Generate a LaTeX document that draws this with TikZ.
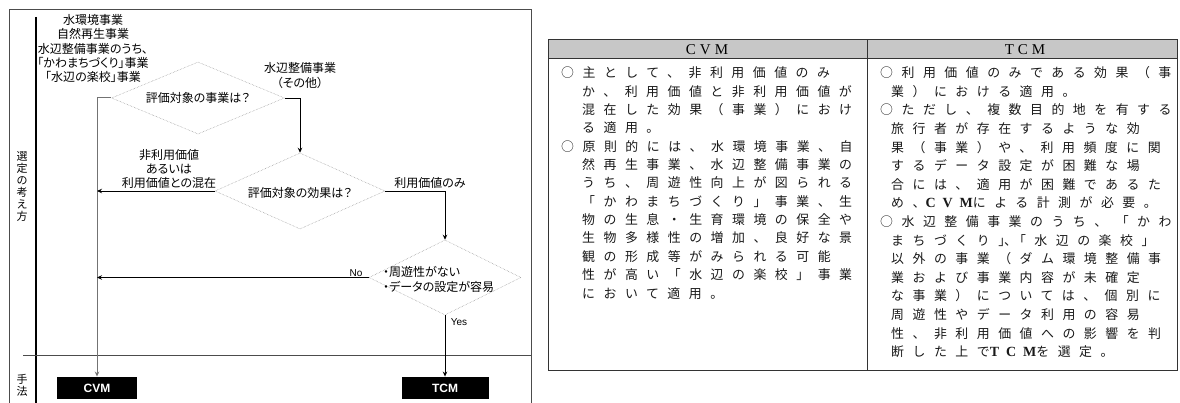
\documentclass[tikz,border=0pt]{standalone}
\usepackage{fontspec}
\setmainfont{Noto Sans CJK JP}
\newfontfamily\jp[RawFeature=+palt]{Noto Sans CJK JP}
\newfontfamily\jpsp[LetterSpace=66]{Noto Sans CJK JP}
\newfontfamily\lsans{Liberation Sans}
\newfontfamily\lserif{Liberation Serif}
\newfontfamily\lserifsp[LetterSpace=50]{Liberation Serif}
\usetikzlibrary{arrows.meta,shapes.geometric}
\newcommand\lat[1]{{\lserifsp\bfseries\fontsize{14}{14}\selectfont #1}}
\tikzset{
 ft/.style={font=\jp\fontsize{12}{14.25}\selectfont, inner sep=0, align=center},
 dia/.style={diamond, draw=black!45, line width=0.5pt, densely dotted, inner sep=0},
 conn/.style={draw=black, line width=0.9pt, -{Stealth[length=5pt,width=4.5pt]}},
 gconn/.style={draw=black!55, line width=1pt, -{Stealth[length=5pt,width=4.5pt]}},
 mbox/.style={fill=black, text=white, font=\lsans\bfseries\fontsize{12}{12}\selectfont, minimum height=22.5pt, inner sep=0},
 tb/.style={font=\jpsp\fontsize{12.9}{14}\selectfont, text=black!90, inner sep=0, anchor=base west},
 lab/.style={font=\lsans\fontsize{10}{10}\selectfont, inner sep=0},
}
\begin{document}
\begin{tikzpicture}[x=1pt,y=-1pt]
\useasboundingbox (0,0) rectangle (1180,403);
% frame
\draw[black!70, line width=1pt] (9,403) -- (9,10) -- (531,10) -- (531,403);
\draw[black, line width=1.3pt] (36,17) -- (36,403);
\draw[black!70, line width=0.9pt] (23,355.7) -- (531,355.7);
\node[ft, font=\jp\fontsize{11}{12}\selectfont] (v1) at (22,186) {選\\定\\の\\考\\え\\方};
\node[ft, font=\jp\fontsize{11}{12}\selectfont] (v2) at (22,385) {手\\法};
% texts
\node[ft] (t1) at (93,48.5) {水環境事業\\自然再生事業\\水辺整備事業のうち、\\「かわまちづくり」事業\\「水辺の楽校」事業};
\node[ft] (t2) at (300,75.5) {水辺整備事業\\（その他）};
% diamonds
\node[dia, minimum width=173pt, minimum height=72pt] (d1) at (198,98) {};
\node[ft] (d1t) at (198,97.5) {評価対象の事業は？};
\node[dia, minimum width=170pt, minimum height=76pt] (d2) at (300,191) {};
\node[ft] (d2t) at (300,192.5) {評価対象の効果は？};
\node[dia, minimum width=152pt, minimum height=75pt] (d3) at (445,277.5) {};
\node[ft, align=left, anchor=west] (d3t) at (383,279.5) {・周遊性がない\\・データの設定が容易};
% method boxes
\node[mbox, minimum width=80.5pt] (cvm) at (97,388) {CVM};
\node[mbox, minimum width=87pt] (tcm) at (445,388) {TCM};
% connectors
\draw[gconn] (d1.west) -| (cvm.north);
\draw[conn] (d1.east) -| (d2.north);
\draw[conn] (d2.west) -- (d2.west -| cvm.north);
\draw[conn] (d2.east) -| (d3.north);
\draw[conn] (d3.west) -- (d3.west -| cvm.north);
\draw[conn, line width=0.7pt] (d3.south) -- (tcm.north);
\node[ft] (l1) at (169,169) {非利用価値\\あるいは\\利用価値との混在};
\node[ft] (l2) at (430,183) {利用価値のみ};
\node[lab] (l3) at (356,273) {No};
\node[lab] (l4) at (459,322) {Yes};
% table
\fill[black!22] (548,40) rectangle (1177,59);
\draw[black!80, line width=1pt] (548,40) rectangle (1177,370);
\draw[black!80, line width=1pt] (548,59) -- (1177,59);
\draw[black!80, line width=1pt] (867,40) -- (867,370);
\node[font=\lserif\fontsize{15}{15}\selectfont, inner sep=0] (h1) at (707,49.5) {C\hspace{4pt}V\hspace{4pt}M};
\node[font=\lserif\fontsize{15}{15}\selectfont, inner sep=0] (h2) at (1025,49.5) {T\hspace{4pt}C\hspace{4pt}M};
\foreach \xx/\t [count=\i] in {
 561/{○主として、非利用価値のみ},
 582/{か、利用価値と非利用価値が},
 582/{混在した効果（事業）におけ},
 582/{る適用。},
 561/{○原則的には、水環境事業、自},
 582/{然再生事業、水辺整備事業の},
 582/{うち、周遊性向上が図られる},
 582/{「かわまちづくり」事業、生},
 582/{物の生息・生育環境の保全や},
 582/{生物多様性の増加、良好な景},
 582/{観の形成等がみられる可能},
 582/{性が高い「水辺の楽校」事業},
 582/{において適用。}}
 \node[tb] (cl\i) at (\xx,77.8+18.35*\i-18.35) {\t};
\foreach \xx/\t [count=\i] in {
 880/{○利用価値のみである効果（事},
 891/{業）における適用。},
 880/{○ただし、複数目的地を有する},
 891/{旅行者が存在するような効},
 891/{果（事業）や、利用頻度に関},
 891/{するデータ設定が困難な場},
 891/{合には、適用が困難であるた},
 891/{め、\lat{CVM}による計測が必要。},
 880/{○水辺整備事業のうち、「かわ},
 891/{まちづくり」\hspace{-7pt}、\hspace{-4pt}「水辺の楽校」},
 891/{以外の事業（ダム環境整備事},
 891/{業および事業内容が未確定},
 891/{な事業）については、個別に},
 891/{周遊性やデータ利用の容易},
 891/{性、非利用価値への影響を判},
 891/{断した上で\lat{TCM}を選定。}}
 \node[tb] (cr\i) at (\xx,77.8+18.6*\i-18.6) {\t};
\end{tikzpicture}
\end{document}
